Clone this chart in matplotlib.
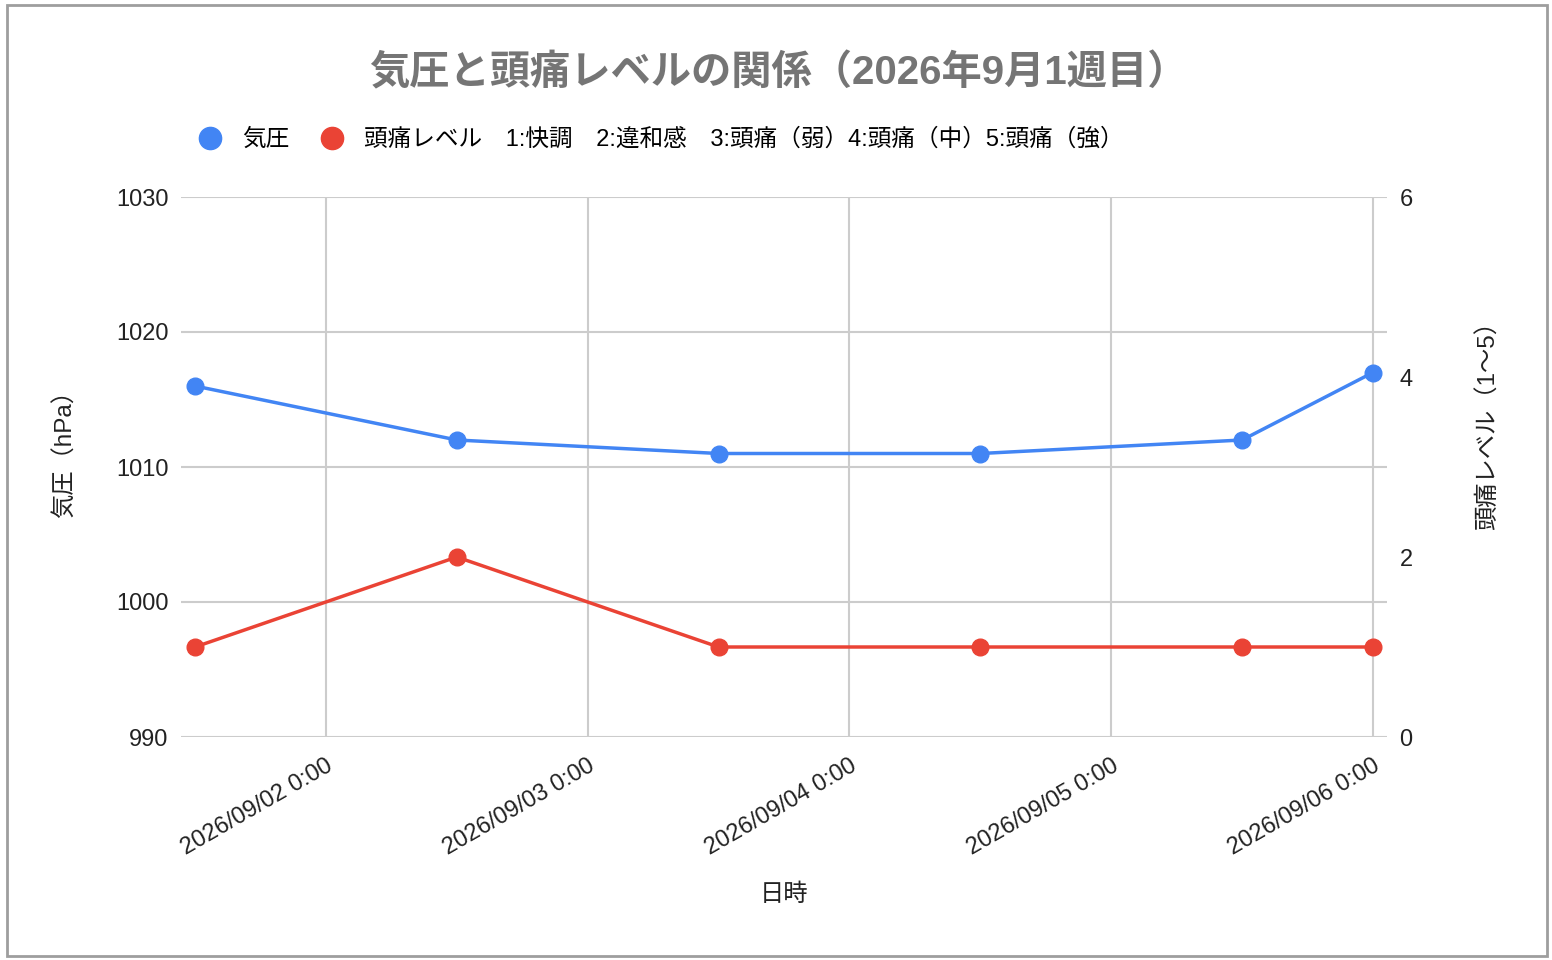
import datetime as dt

import matplotlib
matplotlib.use("Agg")
import matplotlib.pyplot as plt
import matplotlib.dates as mdates
from matplotlib.lines import Line2D
from matplotlib.patches import Rectangle
from matplotlib.ticker import FuncFormatter

# ------------------------------------------------------------
# データ
# ------------------------------------------------------------
times = [
    "2026-09-01 12:00",
    "2026-09-02 12:00",
    "2026-09-03 12:00",
    "2026-09-04 12:00",
    "2026-09-05 12:00",
    "2026-09-06 00:00",
]
pressure = [1016, 1012, 1011, 1011, 1012, 1017]
headache = [1, 2, 1, 1, 1, 1]

tick_days = ["2026-09-02", "2026-09-03", "2026-09-04", "2026-09-05", "2026-09-06"]
left_ticks = [990, 1000, 1010, 1020, 1030]
right_ticks = [0, 2, 4, 6]

title = "気圧と頭痛レベルの関係（2026年9月1週目）"
label_pressure = "気圧"
label_headache = "頭痛レベル　1:快調　2:違和感　3:頭痛（弱）4:頭痛（中）5:頭痛（強）"

BLUE = "#4285F4"
RED = "#EA4335"
GRID = "#cccccc"

FONTS = ["Liberation Sans", "Noto Sans CJK JP", "DejaVu Sans"]
plt.rcParams["font.family"] = FONTS

x = [dt.datetime.strptime(t, "%Y-%m-%d %H:%M") for t in times]
xt = [dt.datetime.strptime(t, "%Y-%m-%d") for t in tick_days]

fig = plt.figure(figsize=(15.52, 9.6), dpi=100)
ax = fig.add_axes([181 / 1552, 1 - 737 / 960, 1206 / 1552, 540 / 960])
ax2 = ax.twinx()

ax.plot(x, pressure, color=BLUE, lw=2.5, marker="o", ms=12, zorder=3)
ax2.plot(x, headache, color=RED, lw=2.5, marker="o", ms=12, zorder=3)

# x 軸
pad = dt.timedelta(days=14 / 262)
ax.set_xlim(min(x) - pad, max(x) + pad)
ax.set_xticks(xt)
ax.xaxis.set_major_formatter(
    FuncFormatter(lambda v, p: (lambda d: f"{d:%Y/%m/%d} {d.hour}:{d:%M}")(mdates.num2date(v)))
)
for lab in ax.get_xticklabels():
    lab.set_rotation(30)
    lab.set_ha("right")
    lab.set_rotation_mode("anchor")

# y 軸
ax.set_ylim(990, 1030)
ax.set_yticks(left_ticks)
ax2.set_ylim(0, 6)
ax2.set_yticks(right_ticks)

for a in (ax, ax2):
    for s in a.spines.values():
        s.set_visible(False)
    a.tick_params(length=0, labelsize=17, colors="#222222", pad=9)
ax.tick_params(axis="x", pad=13)

ax.grid(True, color=GRID, lw=1.5)
ax.set_axisbelow(True)

ax.set_xlabel("日時", fontsize=17.5, color="#222222")
ax.xaxis.set_label_coords(0.5, (737 - 884) / 540)
ax.set_ylabel("気圧（hPa）", fontsize=17.5, color="#222222")
ax.yaxis.set_label_coords((77 - 181) / 1206, (737 - 448) / 540)
ax2.set_ylabel("頭痛レベル（1〜5）", fontsize=17.5, color="#222222", rotation=90)
ax2.yaxis.set_label_coords((1477 - 181) / 1206, (737 - 419) / 540)

fig.text(778 / 1552, 1 - 73 / 960, title, ha="center", va="center",
         fontsize=29, fontweight="bold", color="#757575")

handles = [
    Line2D([], [], ls="none", marker="o", ms=16, color=BLUE),
    Line2D([], [], ls="none", marker="o", ms=16, color=RED),
]
fig.legend(handles, [label_pressure, label_headache], loc="center left",
           bbox_to_anchor=(175 / 1552, 1 - 140 / 960), ncol=2, frameon=False,
           fontsize=17, handletextpad=0.75, columnspacing=1.2, handlelength=1.2)

# 外枠
fig.patches.append(Rectangle((7 / 1552, 4 / 960), 1540 / 1552, 951 / 960,
                             transform=fig.transFigure, fill=False,
                             edgecolor="#9e9e9e", lw=2))

fig.savefig("out.png", dpi=100)
